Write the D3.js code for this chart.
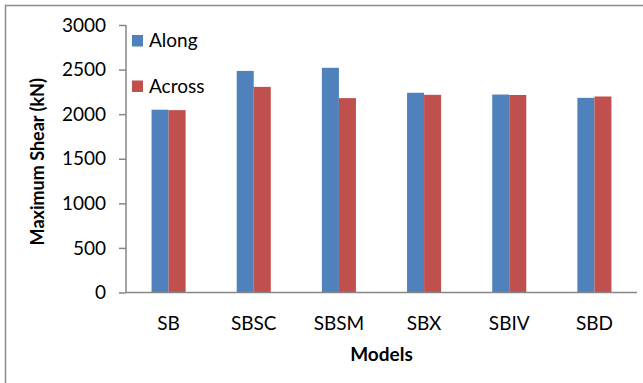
<!DOCTYPE html>
<html>
<head>
<meta charset="utf-8">
<script src="https://cdn.jsdelivr.net/npm/d3@7"></script>
<style>
  html, body { margin: 0; padding: 0; background: #ffffff; }
  svg { display: block; }
  text { font-family: Lato, "Open Sans", sans-serif; fill: #000; }
</style>
</head>
<body>
<svg id="chart" width="643" height="383"></svg>
<script>
// Maximum shear per model, along and across directions (kN)
const models = ["SB", "SBSC", "SBSM", "SBX", "SBIV", "SBD"];
const seriesNames = ["Along", "Across"];
const along = [2050, 2485, 2520, 2240, 2220, 2183];
const across = [2045, 2306, 2180, 2217, 2215, 2198];
const yTicks = [0, 500, 1000, 1500, 2000, 2500, 3000];
const colors = ["#4F81BD", "#C0504D"];

const svg = d3.select("#chart");
const axisColor = "#868686";

// outer chart frame (runs past the right and bottom edges)
svg.append("rect")
  .attr("x", 5.5).attr("y", 5.5)
  .attr("width", 700).attr("height", 420)
  .attr("fill", "#fff")
  .attr("stroke", "#8c8c8c")
  .attr("stroke-width", 1.5);

const plot = { left: 126, right: 637, top: 25, bottom: 292.5 };

const y = d3.scaleLinear().domain([0, 3000]).range([plot.bottom, plot.top]);
const x0 = d3.scaleBand().domain(models).range([plot.left, plot.right]).padding(0);
const x1 = d3.scaleBand().domain(seriesNames).range([0, x0.bandwidth()])
  .paddingInner(0).paddingOuter(1.5);

const rows = models.map((m, i) => ({ model: m, values: [along[i], across[i]] }));

// bars
const groups = svg.append("g").selectAll("g")
  .data(rows).join("g")
  .attr("transform", d => `translate(${x0(d.model)},0)`);

groups.selectAll("rect")
  .data(d => d.values.map((v, k) => ({ key: seriesNames[k], value: v, k })))
  .join("rect")
  .attr("x", d => x1(d.key))
  .attr("width", x1.bandwidth())
  .attr("y", d => y(d.value))
  .attr("height", d => y(0) - y(d.value))
  .attr("fill", d => colors[d.k]);

// y axis
const yAxis = d3.axisLeft(y).tickValues(yTicks).tickSize(7).tickPadding(13)
  .tickFormat(d3.format("d"));
const gy = svg.append("g").attr("transform", `translate(${plot.left},0)`).call(yAxis);
gy.select(".domain").attr("stroke", axisColor).attr("stroke-width", 1.5)
  .attr("d", `M0,${plot.top}V${plot.bottom}`);
gy.selectAll(".tick line").attr("stroke", axisColor).attr("stroke-width", 1.5);
gy.selectAll(".tick text").attr("font-size", 19).attr("font-family", "Lato, sans-serif")
  .attr("fill", "#000");

// x axis
const xAxis = d3.axisBottom(x0).tickSize(0).tickPadding(24);
const gx = svg.append("g").attr("transform", `translate(0,${plot.bottom})`).call(xAxis);
gx.select(".domain").attr("stroke", axisColor).attr("stroke-width", 1.5)
  .attr("d", `M${plot.left},0H${plot.right}`);
gx.selectAll(".tick text").attr("font-size", 19).attr("font-family", "Lato, sans-serif")
  .attr("fill", "#000");

// axis titles
svg.append("text")
  .attr("x", (plot.left + plot.right) / 2)
  .attr("y", 361)
  .attr("text-anchor", "middle")
  .attr("font-size", 19)
  .attr("font-weight", "bold")
  .text("Models");

svg.append("text")
  .attr("transform", `translate(44,${(plot.top + plot.bottom) / 2 + 3}) rotate(-90)`)
  .attr("text-anchor", "middle")
  .attr("font-size", 18)
  .attr("font-weight", "bold")
  .text("Maximum Shear (kN)");

// legend
const legend = svg.append("g").selectAll("g")
  .data(seriesNames).join("g")
  .attr("transform", (d, i) => `translate(132,${35 + i * 45.5})`);
legend.append("rect")
  .attr("width", 11).attr("height", 11.5)
  .attr("fill", (d, i) => colors[i]);
legend.append("text")
  .attr("x", 17).attr("y", 12.3)
  .attr("font-size", 19)
  .text(d => d);
</script>
</body>
</html>
